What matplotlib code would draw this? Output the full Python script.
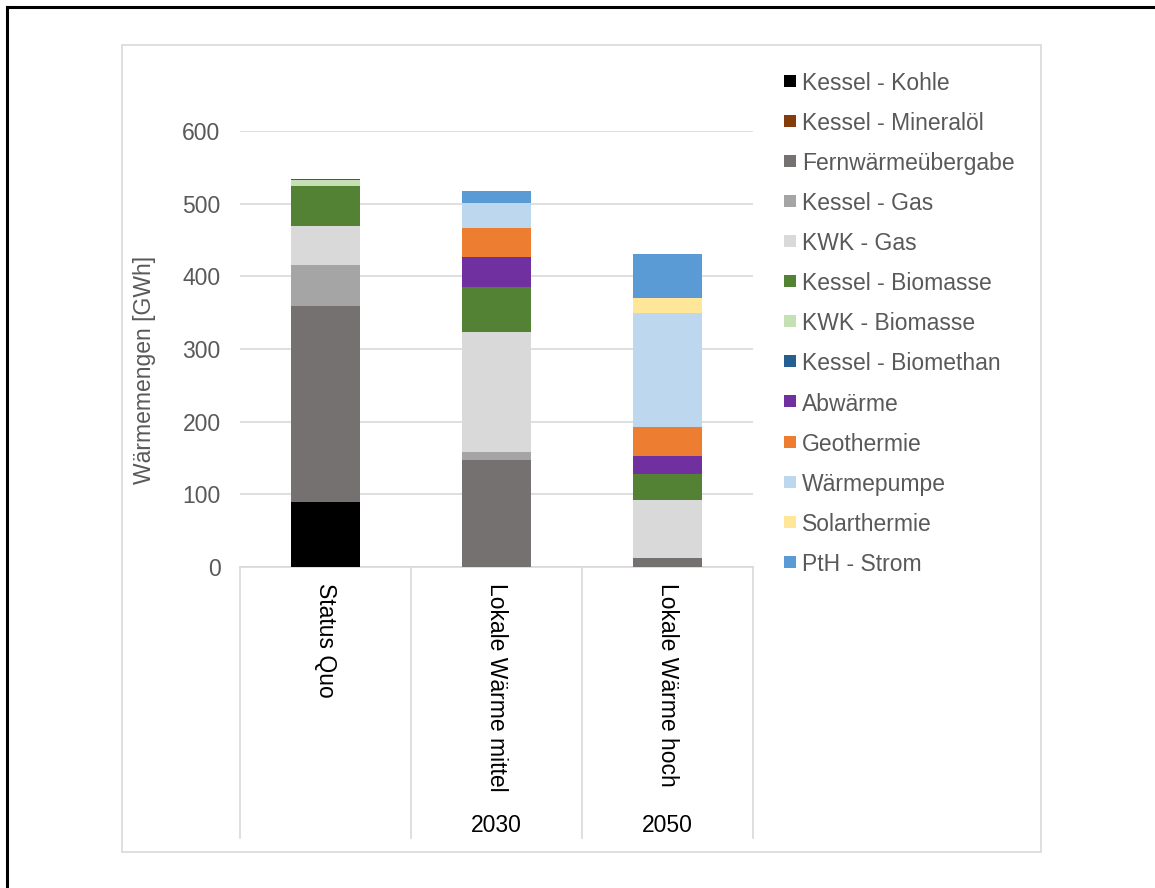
import matplotlib.pyplot as plt
from matplotlib.patches import Rectangle
from matplotlib.lines import Line2D
import numpy as np

plt.rcParams['font.family'] = ['Liberation Sans', 'DejaVu Sans']

scenarios = ['Status Quo', 'Lokale Wärme mittel', 'Lokale Wärme hoch']
years = ['', '2030', '2050']

sources = [
    'Kessel - Kohle', 'Kessel - Mineralöl', 'Fernwärmeübergabe',
    'Kessel - Gas', 'KWK - Gas', 'Kessel - Biomasse', 'KWK - Biomasse',
    'Kessel - Biomethan', 'Abwärme', 'Geothermie', 'Wärmepumpe',
    'Solarthermie', 'PtH - Strom',
]
colors = [
    '#000000', '#843C0C', '#767171', '#A5A5A5', '#D9D9D9', '#548235',
    '#C5E0B4', '#255E91', '#7030A0', '#ED7D31', '#BDD7EE', '#FFE699',
    '#5B9BD5',
]

# GWh per source, one column per scenario
kohle = [90, 0, 0]
mineraloel = [0, 0, 0]
fernwaerme = [269, 147, 13]
kessel_gas = [56, 11, 0]
kwk_gas = [54, 166, 79]
kessel_biomasse = [55, 62, 36]
kwk_biomasse = [9, 0, 0]
biomethan = [1, 0, 0]
abwaerme = [0, 41, 25]
geothermie = [0, 39, 39]
waermepumpe = [0, 35, 158]
solarthermie = [0, 0, 20]
pth_strom = [0, 17, 61]

values = [kohle, mineraloel, fernwaerme, kessel_gas, kwk_gas,
          kessel_biomasse, kwk_biomasse, biomethan, abwaerme, geothermie,
          waermepumpe, solarthermie, pth_strom]

W, H = 1155, 888
fig = plt.figure(figsize=(W / 100, H / 100), dpi=100)

# outer frame: black rule on top/left, light grey chart border
fig.add_artist(Line2D([7 / W, 7 / W], [0, 1 - 7 / H], color='black', lw=2.2))
fig.add_artist(Line2D([7 / W, 1], [1 - 7 / H, 1 - 7 / H], color='black', lw=2.2))
fig.add_artist(Rectangle((122 / W, 1 - 852 / H), 919 / W, 807 / H,
                         fill=False, ec='#D9D9D9', lw=1.2))

ax = fig.add_axes([240 / W, 1 - 567 / H, 513 / W, 436 / H])
x = np.arange(len(scenarios))
bottom = np.zeros(len(scenarios))
for name, vals, col in zip(sources, values, colors):
    ax.bar(x, vals, width=0.4, bottom=bottom, color=col, label=name, zorder=3)
    bottom += np.array(vals)

ax.set_xlim(-0.5, 2.5)
ax.set_ylim(0, 600)
ax.set_yticks(range(0, 601, 100))
ax.yaxis.grid(True, color='#D9D9D9', lw=1.2, zorder=0)
ax.tick_params(axis='y', length=0, pad=14, labelsize=16.5, labelcolor='#595959')
ax.set_xticks([])
for side in ['left', 'right', 'top']:
    ax.spines[side].set_visible(False)
ax.spines['bottom'].set_color('#D9D9D9')
ax.spines['bottom'].set_linewidth(1.2)

# two-level category axis below the bars
trans = ax.get_xaxis_transform()
depth = -(838 - 567) / 436
for sep in [-0.5, 0.5, 1.5, 2.5]:
    ax.plot([sep, sep], [0, depth], transform=trans, color='#D9D9D9',
            lw=1.2, clip_on=False)
for xi, name, yr in zip(x, scenarios, years):
    ax.text(xi, -(583 - 567) / 436, name, transform=trans, rotation=270,
            ha='center', va='top', fontsize=16.5, color='black')
    if yr:
        ax.text(xi, -(825 - 567) / 436, yr, transform=trans,
                ha='center', va='center', fontsize=16.5, color='black')

fig.text(144 / W, 1 - 370 / H, 'Wärmemengen [GWh]', rotation=90,
         ha='center', va='center', fontsize=16.5, color='#595959')

# legend drawn row by row
for i, (name, col) in enumerate(zip(sources, colors)):
    yc = 80.7 + i * 40.1
    fig.add_artist(Rectangle((784 / W, 1 - (yc + 6) / H), 12 / W, 12 / H,
                             color=col, lw=0))
    fig.text(802 / W, 1 - yc / H, name, ha='left', va='center_baseline',
             fontsize=16.5, color='#595959')

fig.savefig('out.png', dpi=100)
